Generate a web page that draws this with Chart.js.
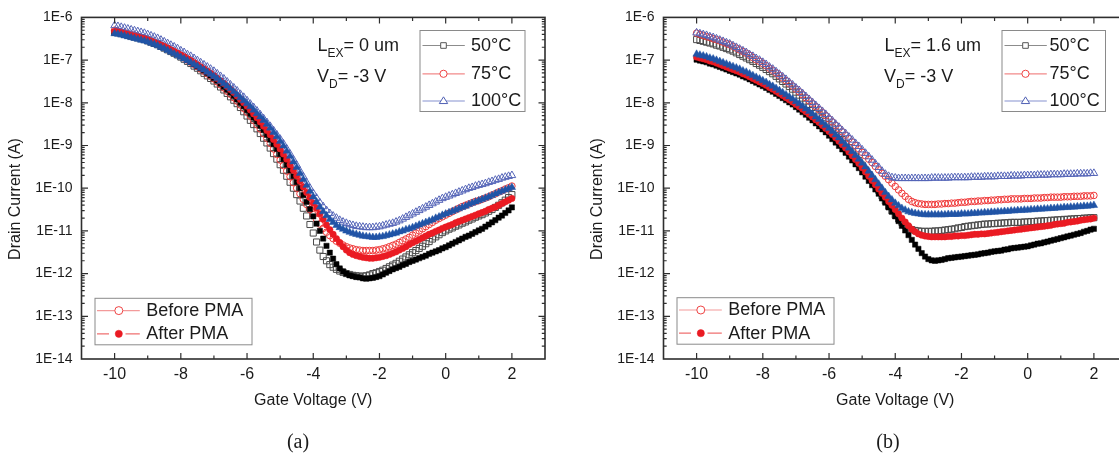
<!DOCTYPE html>
<html><head><meta charset="utf-8">
<script src="https://cdn.jsdelivr.net/npm/chart.js@4.4.0/dist/chart.umd.min.js"></script>
<style>
html,body{margin:0;padding:0;background:#fff;}
#wrap{position:relative;width:1119px;height:455px;overflow:hidden;background:#fff;}
canvas{position:absolute;top:0;}
#ca{left:0;} #cb{left:582px;}
</style></head><body>
<div id="wrap"><canvas id="ca" width="560" height="455"></canvas><canvas id="cb" width="560" height="455"></canvas></div>
<script>
// Gate voltage (V) of the sampled points
const gateVoltage = [
  -10,-9.9,-9.8,-9.7,-9.6,-9.5,-9.4,-9.3,-9.2,-9.1,
  -9,-8.9,-8.8,-8.7,-8.6,-8.5,-8.4,-8.3,-8.2,-8.1,
  -8,-7.9,-7.8,-7.7,-7.6,-7.5,-7.4,-7.3,-7.2,-7.1,
  -7,-6.9,-6.8,-6.7,-6.6,-6.5,-6.4,-6.3,-6.2,-6.1,
  -6,-5.9,-5.8,-5.7,-5.6,-5.5,-5.4,-5.3,-5.2,-5.1,
  -5,-4.9,-4.8,-4.7,-4.6,-4.5,-4.4,-4.3,-4.2,-4.1,
  -4,-3.9,-3.8,-3.7,-3.6,-3.5,-3.4,-3.3,-3.2,-3.1,
  -3,-2.9,-2.8,-2.7,-2.6,-2.5,-2.4,-2.3,-2.2,-2.1,
  -2,-1.9,-1.8,-1.7,-1.6,-1.5,-1.4,-1.3,-1.2,-1.1,
  -1,-0.9,-0.8,-0.7,-0.6,-0.5,-0.4,-0.3,-0.2,-0.1,
  0,0.1,0.2,0.3,0.4,0.5,0.6,0.7,0.8,0.9,
  1,1.1,1.2,1.3,1.4,1.5,1.6,1.7,1.8,1.9,2];

// Drain current, stored as log10(I / A)
// Panel (a): L_EX = 0 um
const a50Before = [
  -6.35,-6.36,-6.38,-6.40,-6.42,-6.44,-6.46,-6.48,-6.50,-6.52,
  -6.55,-6.58,-6.61,-6.64,-6.68,-6.72,-6.76,-6.80,-6.84,-6.88,
  -6.93,-6.98,-7.03,-7.08,-7.14,-7.19,-7.25,-7.31,-7.37,-7.43,
  -7.49,-7.56,-7.63,-7.70,-7.78,-7.86,-7.94,-8.02,-8.11,-8.21,
  -8.31,-8.41,-8.51,-8.61,-8.72,-8.83,-8.94,-9.06,-9.19,-9.32,
  -9.45,-9.58,-9.72,-9.86,-10.00,-10.15,-10.30,-10.47,-10.65,-10.85,
  -11.05,-11.26,-11.45,-11.60,-11.70,-11.79,-11.85,-11.90,-11.94,-11.97,
  -12.00,-12.02,-12.04,-12.05,-12.06,-12.06,-12.05,-12.03,-12.00,-11.98,
  -11.95,-11.92,-11.88,-11.84,-11.80,-11.76,-11.71,-11.66,-11.61,-11.56,
  -11.51,-11.46,-11.41,-11.36,-11.30,-11.25,-11.19,-11.14,-11.09,-11.04,
  -11.00,-10.96,-10.93,-10.89,-10.86,-10.82,-10.79,-10.75,-10.72,-10.68,
  -10.65,-10.62,-10.58,-10.54,-10.50,-10.45,-10.40,-10.34,-10.28,-10.22,-10.15];
const a50After = [
  -6.35,-6.36,-6.38,-6.40,-6.42,-6.44,-6.46,-6.48,-6.50,-6.52,
  -6.55,-6.57,-6.60,-6.63,-6.67,-6.70,-6.74,-6.78,-6.82,-6.86,
  -6.90,-6.94,-6.99,-7.04,-7.09,-7.14,-7.19,-7.24,-7.30,-7.36,
  -7.42,-7.48,-7.55,-7.62,-7.69,-7.76,-7.84,-7.92,-8.00,-8.08,
  -8.17,-8.26,-8.35,-8.44,-8.54,-8.64,-8.75,-8.86,-8.97,-9.08,
  -9.20,-9.32,-9.45,-9.58,-9.72,-9.86,-10.00,-10.16,-10.32,-10.49,
  -10.66,-10.83,-11.00,-11.18,-11.35,-11.51,-11.65,-11.78,-11.88,-11.95,
  -12.00,-12.04,-12.06,-12.08,-12.09,-12.11,-12.12,-12.11,-12.10,-12.08,
  -12.06,-12.02,-11.98,-11.94,-11.90,-11.87,-11.84,-11.80,-11.77,-11.73,
  -11.70,-11.67,-11.64,-11.61,-11.58,-11.54,-11.51,-11.48,-11.45,-11.41,
  -11.38,-11.34,-11.30,-11.26,-11.22,-11.18,-11.14,-11.11,-11.07,-11.03,
  -10.99,-10.95,-10.90,-10.85,-10.80,-10.75,-10.69,-10.64,-10.58,-10.52,-10.45];
const a75Before = [
  -6.30,-6.32,-6.34,-6.36,-6.38,-6.40,-6.42,-6.44,-6.47,-6.49,
  -6.52,-6.55,-6.58,-6.61,-6.65,-6.69,-6.73,-6.77,-6.81,-6.85,
  -6.90,-6.95,-7.00,-7.05,-7.10,-7.15,-7.21,-7.26,-7.32,-7.38,
  -7.44,-7.51,-7.58,-7.65,-7.73,-7.80,-7.88,-7.96,-8.05,-8.13,
  -8.22,-8.31,-8.41,-8.51,-8.61,-8.72,-8.83,-8.95,-9.08,-9.21,
  -9.34,-9.47,-9.60,-9.73,-9.87,-10.00,-10.13,-10.26,-10.38,-10.50,
  -10.62,-10.73,-10.84,-10.94,-11.03,-11.11,-11.18,-11.24,-11.29,-11.33,
  -11.37,-11.40,-11.42,-11.44,-11.45,-11.46,-11.46,-11.46,-11.46,-11.45,
  -11.44,-11.42,-11.40,-11.37,-11.34,-11.31,-11.27,-11.23,-11.19,-11.15,
  -11.10,-11.05,-11.00,-10.95,-10.90,-10.85,-10.80,-10.75,-10.71,-10.67,
  -10.63,-10.59,-10.55,-10.51,-10.47,-10.43,-10.40,-10.37,-10.34,-10.31,
  -10.29,-10.26,-10.23,-10.20,-10.16,-10.13,-10.09,-10.06,-10.02,-9.99,-9.95];
const a75After = [
  -6.33,-6.34,-6.36,-6.38,-6.40,-6.42,-6.44,-6.46,-6.48,-6.50,
  -6.53,-6.56,-6.59,-6.62,-6.65,-6.68,-6.72,-6.76,-6.80,-6.84,
  -6.88,-6.92,-6.97,-7.01,-7.06,-7.11,-7.16,-7.21,-7.26,-7.31,
  -7.37,-7.43,-7.49,-7.55,-7.62,-7.69,-7.76,-7.84,-7.92,-8.00,
  -8.08,-8.17,-8.26,-8.35,-8.45,-8.55,-8.65,-8.75,-8.86,-8.97,
  -9.08,-9.20,-9.32,-9.45,-9.58,-9.71,-9.84,-9.97,-10.10,-10.22,
  -10.35,-10.47,-10.60,-10.73,-10.86,-10.97,-11.08,-11.18,-11.27,-11.37,
  -11.45,-11.51,-11.55,-11.58,-11.60,-11.62,-11.63,-11.64,-11.64,-11.63,
  -11.62,-11.60,-11.58,-11.55,-11.52,-11.49,-11.45,-11.41,-11.37,-11.32,
  -11.28,-11.24,-11.20,-11.16,-11.12,-11.08,-11.05,-11.01,-10.98,-10.94,
  -10.91,-10.88,-10.85,-10.81,-10.78,-10.75,-10.72,-10.69,-10.66,-10.63,
  -10.60,-10.57,-10.54,-10.50,-10.47,-10.44,-10.40,-10.36,-10.32,-10.28,-10.24];
const a100Before = [
  -6.19,-6.21,-6.23,-6.25,-6.27,-6.29,-6.31,-6.33,-6.35,-6.37,
  -6.40,-6.43,-6.46,-6.49,-6.53,-6.57,-6.61,-6.65,-6.69,-6.73,
  -6.78,-6.82,-6.87,-6.91,-6.96,-7.01,-7.06,-7.11,-7.16,-7.21,
  -7.26,-7.32,-7.38,-7.44,-7.51,-7.58,-7.65,-7.72,-7.80,-7.87,
  -7.95,-8.03,-8.11,-8.19,-8.28,-8.37,-8.46,-8.55,-8.65,-8.75,
  -8.85,-8.96,-9.08,-9.20,-9.33,-9.46,-9.60,-9.73,-9.87,-10.00,
  -10.12,-10.23,-10.34,-10.43,-10.52,-10.59,-10.65,-10.70,-10.75,-10.79,
  -10.82,-10.85,-10.87,-10.89,-10.90,-10.91,-10.92,-10.92,-10.92,-10.91,
  -10.90,-10.88,-10.86,-10.84,-10.82,-10.79,-10.76,-10.72,-10.68,-10.64,
  -10.60,-10.56,-10.52,-10.48,-10.44,-10.40,-10.36,-10.32,-10.28,-10.24,
  -10.21,-10.18,-10.15,-10.12,-10.09,-10.06,-10.03,-10.00,-9.98,-9.95,
  -9.93,-9.91,-9.89,-9.86,-9.84,-9.81,-9.79,-9.76,-9.74,-9.72,-9.70];
const a100After = [
  -6.38,-6.39,-6.41,-6.43,-6.45,-6.47,-6.49,-6.51,-6.53,-6.55,
  -6.57,-6.60,-6.63,-6.66,-6.70,-6.73,-6.77,-6.81,-6.85,-6.89,
  -6.93,-6.97,-7.01,-7.05,-7.10,-7.14,-7.19,-7.23,-7.28,-7.33,
  -7.38,-7.43,-7.49,-7.55,-7.61,-7.67,-7.74,-7.81,-7.88,-7.95,
  -8.02,-8.09,-8.17,-8.25,-8.33,-8.41,-8.50,-8.59,-8.69,-8.79,
  -8.90,-9.01,-9.13,-9.25,-9.38,-9.51,-9.65,-9.79,-9.93,-10.07,
  -10.20,-10.32,-10.44,-10.55,-10.64,-10.73,-10.80,-10.87,-10.92,-10.96,
  -11.00,-11.03,-11.06,-11.08,-11.10,-11.12,-11.13,-11.14,-11.15,-11.15,
  -11.14,-11.13,-11.11,-11.09,-11.07,-11.05,-11.02,-11.00,-10.97,-10.95,
  -10.92,-10.89,-10.86,-10.83,-10.80,-10.77,-10.74,-10.70,-10.67,-10.63,
  -10.60,-10.57,-10.54,-10.51,-10.48,-10.45,-10.42,-10.38,-10.35,-10.32,
  -10.29,-10.26,-10.23,-10.20,-10.17,-10.13,-10.10,-10.07,-10.04,-10.01,-9.98];

// Panel (b): L_EX = 1.6 um
const b50Before = [
  -6.52,-6.54,-6.56,-6.58,-6.60,-6.62,-6.65,-6.67,-6.70,-6.73,
  -6.76,-6.79,-6.83,-6.87,-6.91,-6.95,-6.99,-7.03,-7.08,-7.12,
  -7.17,-7.22,-7.27,-7.32,-7.38,-7.44,-7.50,-7.56,-7.62,-7.68,
  -7.75,-7.82,-7.89,-7.96,-8.04,-8.11,-8.19,-8.27,-8.35,-8.43,
  -8.51,-8.59,-8.68,-8.77,-8.86,-8.95,-9.05,-9.15,-9.25,-9.35,
  -9.46,-9.57,-9.68,-9.80,-9.92,-10.05,-10.18,-10.30,-10.42,-10.53,
  -10.63,-10.72,-10.80,-10.87,-10.93,-10.97,-10.99,-11.00,-11.01,-11.01,
  -11.01,-11.01,-11.00,-11.00,-10.99,-10.98,-10.97,-10.96,-10.95,-10.93,
  -10.92,-10.90,-10.89,-10.88,-10.87,-10.86,-10.85,-10.84,-10.84,-10.83,
  -10.83,-10.82,-10.82,-10.81,-10.81,-10.80,-10.80,-10.80,-10.80,-10.79,
  -10.79,-10.78,-10.78,-10.77,-10.77,-10.76,-10.76,-10.75,-10.75,-10.74,
  -10.74,-10.73,-10.73,-10.72,-10.72,-10.71,-10.71,-10.70,-10.70,-10.69,-10.69];
const b50After = [
  -6.99,-7.01,-7.03,-7.05,-7.08,-7.10,-7.13,-7.16,-7.19,-7.22,
  -7.25,-7.28,-7.31,-7.34,-7.38,-7.41,-7.45,-7.49,-7.53,-7.57,
  -7.61,-7.65,-7.70,-7.74,-7.79,-7.84,-7.89,-7.94,-7.99,-8.04,
  -8.10,-8.16,-8.22,-8.28,-8.35,-8.41,-8.48,-8.55,-8.62,-8.69,
  -8.77,-8.85,-8.93,-9.01,-9.09,-9.17,-9.26,-9.35,-9.44,-9.53,
  -9.63,-9.73,-9.83,-9.93,-10.03,-10.13,-10.24,-10.34,-10.45,-10.55,
  -10.66,-10.77,-10.88,-10.99,-11.10,-11.21,-11.32,-11.42,-11.52,-11.60,
  -11.66,-11.69,-11.70,-11.69,-11.68,-11.66,-11.64,-11.63,-11.62,-11.61,
  -11.60,-11.59,-11.58,-11.57,-11.56,-11.55,-11.53,-11.52,-11.51,-11.49,
  -11.48,-11.47,-11.46,-11.44,-11.43,-11.41,-11.40,-11.39,-11.38,-11.37,
  -11.36,-11.34,-11.32,-11.30,-11.29,-11.27,-11.25,-11.23,-11.21,-11.19,
  -11.17,-11.15,-11.13,-11.11,-11.09,-11.07,-11.05,-11.02,-11.00,-10.97,-10.95];
const b75Before = [
  -6.37,-6.40,-6.42,-6.45,-6.47,-6.50,-6.52,-6.55,-6.58,-6.61,
  -6.64,-6.68,-6.72,-6.76,-6.80,-6.84,-6.89,-6.94,-6.99,-7.03,
  -7.08,-7.13,-7.19,-7.24,-7.30,-7.36,-7.42,-7.48,-7.55,-7.61,
  -7.68,-7.74,-7.81,-7.88,-7.95,-8.02,-8.09,-8.16,-8.23,-8.30,
  -8.38,-8.45,-8.53,-8.60,-8.68,-8.76,-8.84,-8.92,-9.00,-9.08,
  -9.16,-9.24,-9.32,-9.40,-9.49,-9.57,-9.65,-9.72,-9.80,-9.88,
  -9.96,-10.04,-10.12,-10.19,-10.26,-10.31,-10.34,-10.36,-10.37,-10.38,
  -10.38,-10.38,-10.38,-10.37,-10.37,-10.36,-10.36,-10.35,-10.35,-10.34,
  -10.33,-10.33,-10.32,-10.31,-10.31,-10.30,-10.30,-10.29,-10.29,-10.28,
  -10.28,-10.27,-10.27,-10.26,-10.26,-10.25,-10.25,-10.25,-10.25,-10.24,
  -10.24,-10.24,-10.23,-10.23,-10.23,-10.22,-10.22,-10.21,-10.21,-10.21,
  -10.21,-10.20,-10.20,-10.20,-10.19,-10.19,-10.19,-10.18,-10.18,-10.18,-10.17];
const b75After = [
  -6.93,-6.95,-6.97,-6.99,-7.02,-7.04,-7.07,-7.10,-7.13,-7.16,
  -7.19,-7.22,-7.25,-7.28,-7.32,-7.35,-7.39,-7.43,-7.47,-7.51,
  -7.55,-7.59,-7.64,-7.68,-7.73,-7.78,-7.83,-7.88,-7.93,-7.98,
  -8.04,-8.09,-8.15,-8.21,-8.27,-8.33,-8.40,-8.46,-8.53,-8.60,
  -8.67,-8.74,-8.82,-8.90,-8.98,-9.06,-9.15,-9.24,-9.33,-9.42,
  -9.52,-9.62,-9.72,-9.82,-9.92,-10.02,-10.12,-10.21,-10.31,-10.40,
  -10.50,-10.60,-10.70,-10.79,-10.88,-10.96,-11.02,-11.07,-11.10,-11.12,
  -11.13,-11.14,-11.14,-11.14,-11.14,-11.14,-11.13,-11.13,-11.12,-11.12,
  -11.11,-11.11,-11.10,-11.09,-11.08,-11.08,-11.07,-11.07,-11.06,-11.05,
  -11.04,-11.03,-11.02,-11.01,-11.00,-10.99,-10.98,-10.97,-10.96,-10.95,
  -10.94,-10.93,-10.92,-10.91,-10.90,-10.89,-10.88,-10.87,-10.85,-10.84,
  -10.83,-10.82,-10.80,-10.79,-10.78,-10.77,-10.75,-10.74,-10.73,-10.72,-10.70];
const b100Before = [
  -6.36,-6.38,-6.40,-6.42,-6.45,-6.47,-6.50,-6.53,-6.56,-6.59,
  -6.62,-6.66,-6.70,-6.74,-6.78,-6.82,-6.87,-6.91,-6.96,-7.00,
  -7.05,-7.10,-7.16,-7.21,-7.27,-7.33,-7.39,-7.45,-7.52,-7.58,
  -7.65,-7.71,-7.78,-7.85,-7.92,-7.99,-8.06,-8.13,-8.20,-8.27,
  -8.35,-8.42,-8.50,-8.57,-8.65,-8.72,-8.80,-8.87,-8.95,-9.02,
  -9.10,-9.18,-9.26,-9.34,-9.43,-9.51,-9.60,-9.67,-9.72,-9.75,
  -9.76,-9.77,-9.77,-9.77,-9.77,-9.77,-9.77,-9.77,-9.77,-9.77,
  -9.77,-9.76,-9.76,-9.76,-9.76,-9.76,-9.76,-9.75,-9.75,-9.75,
  -9.75,-9.75,-9.75,-9.74,-9.74,-9.74,-9.74,-9.73,-9.73,-9.73,
  -9.73,-9.72,-9.72,-9.72,-9.72,-9.71,-9.71,-9.71,-9.71,-9.70,
  -9.70,-9.70,-9.70,-9.69,-9.69,-9.69,-9.69,-9.68,-9.68,-9.68,
  -9.68,-9.67,-9.67,-9.67,-9.67,-9.66,-9.66,-9.66,-9.66,-9.65,-9.65];
const b100After = [
  -6.86,-6.88,-6.90,-6.92,-6.95,-6.97,-7.00,-7.03,-7.06,-7.09,
  -7.12,-7.15,-7.18,-7.21,-7.25,-7.28,-7.32,-7.36,-7.40,-7.44,
  -7.48,-7.52,-7.57,-7.61,-7.66,-7.71,-7.76,-7.81,-7.86,-7.91,
  -7.97,-8.02,-8.08,-8.14,-8.20,-8.26,-8.33,-8.39,-8.46,-8.53,
  -8.60,-8.67,-8.75,-8.82,-8.90,-8.98,-9.06,-9.14,-9.23,-9.32,
  -9.41,-9.50,-9.60,-9.70,-9.80,-9.90,-10.00,-10.10,-10.19,-10.27,
  -10.35,-10.41,-10.47,-10.51,-10.55,-10.57,-10.59,-10.60,-10.61,-10.62,
  -10.62,-10.62,-10.62,-10.62,-10.62,-10.62,-10.61,-10.61,-10.61,-10.61,
  -10.60,-10.60,-10.60,-10.59,-10.59,-10.58,-10.58,-10.57,-10.57,-10.56,
  -10.56,-10.55,-10.55,-10.54,-10.54,-10.53,-10.53,-10.52,-10.52,-10.51,
  -10.51,-10.50,-10.50,-10.49,-10.49,-10.48,-10.48,-10.47,-10.47,-10.46,
  -10.46,-10.45,-10.45,-10.44,-10.44,-10.43,-10.43,-10.42,-10.42,-10.41,-10.40];

// Axis ticks and labels
const xTickValues = [-10,-9,-8,-7,-6,-5,-4,-3,-2,-1,0,1,2];
const xTickLabels = ['-10','','-8','','-6','','-4','','-2','','0','','2'];
const yTickValues = [1e-14,1e-13,1e-12,1e-11,1e-10,1e-9,1e-8,1e-7,1e-6];
const yTickLabels = ['1E-14','1E-13','1E-12','1E-11','1E-10','1E-9','1E-8','1E-7','1E-6'];
const minorMultipliers = [1,2,3,4,5,6,7,8,9];
const xAxisTitle = 'Gate Voltage (V)';
const yAxisTitle = 'Drain Current (A)';
const tempLabels = ['50°C','75°C','100°C'];
const pmaLabels = ['Before PMA','After PMA'];

const FONT = "'Liberation Sans', Arial, Helvetica, sans-serif";
const TEXT = '#1b1b1b';
const AXIS = '#2e2e2e';
Chart.defaults.font.family = FONT;
Chart.defaults.color = TEXT;

const styles = {
  before50:  {pointStyle:'rect', r:4.3, border:'#4a4a4a', fill:'rgba(255,255,255,0)', bw:1, order:5},
  before75:  {pointStyle:'circle', r:3.3, border:'#ef3a3a', fill:'rgba(255,255,255,0)', bw:1, order:4},
  before100: {pointStyle:'triangle', r:4.4, border:'#5565b8', fill:'rgba(255,255,255,0)', bw:1, order:3},
  after50:   {pointStyle:'rect', r:3.7, border:'#000000', fill:'#000000', bw:0.5, order:2},
  after75:   {pointStyle:'circle', r:3.2, border:'#ea1b23', fill:'#ea1b23', bw:0.5, order:1},
  after100:  {pointStyle:'triangle', r:4.3, border:'#2154a6', fill:'#2154a6', bw:0.5, order:0}
};

function toPoints(logs) {
  return gateVoltage.map((v, i) => ({x: v, y: Math.pow(10, logs[i])}));
}
function dataset(label, logs, st) {
  return {
    label, data: toPoints(logs), showLine: false, order: st.order,
    pointStyle: st.pointStyle, pointRadius: st.r, pointBorderWidth: st.bw,
    pointBorderColor: st.border, pointBackgroundColor: st.fill,
    borderColor: st.border, backgroundColor: st.fill
  };
}

function drawMarker(ctx, style, x, y, r, stroke, fill, lw) {
  ctx.save();
  ctx.beginPath();
  if (style === 'rect') {
    ctx.rect(x - r, y - r, 2 * r, 2 * r);
  } else if (style === 'circle') {
    ctx.arc(x, y, r, 0, Math.PI * 2);
  } else {
    const h = r * 1.6;
    ctx.moveTo(x, y - h * 0.62);
    ctx.lineTo(x + r, y + h * 0.38);
    ctx.lineTo(x - r, y + h * 0.38);
    ctx.closePath();
  }
  ctx.fillStyle = fill; ctx.fill();
  ctx.lineWidth = lw; ctx.strokeStyle = stroke; ctx.stroke();
  ctx.restore();
}

function drawSubText(ctx, x, y, main, sub, rest) {
  ctx.textAlign = 'left'; ctx.textBaseline = 'alphabetic';
  ctx.font = '18px ' + FONT;
  ctx.fillText(main, x, y);
  let w = ctx.measureText(main).width;
  ctx.font = '12px ' + FONT;
  ctx.fillText(sub, x + w, y + 6);
  w += ctx.measureText(sub).width;
  ctx.font = '18px ' + FONT;
  ctx.fillText(rest, x + w, y);
}

function makeDecor(p) {
  return {
    id: 'decor',
    afterDraw(chart) {
      const ctx = chart.ctx, ca = chart.chartArea;
      const xs = chart.scales.x, ys = chart.scales.y;
      ctx.save();
      // inward ticks on all four sides
      ctx.strokeStyle = AXIS; ctx.lineWidth = 1.2;
      ctx.beginPath();
      yTickValues.forEach(base => {
        minorMultipliers.forEach(k => {
          const py = ys.getPixelForValue(base * k);
          if (py < ca.top + 1 || py > ca.bottom - 1) return;
          const len = k === 1 ? 6.5 : 3.2;
          ctx.moveTo(ca.left, py); ctx.lineTo(ca.left + len, py);
          ctx.moveTo(ca.right, py); ctx.lineTo(ca.right - len, py);
        });
      });
      xTickValues.forEach((v, i) => {
        const px = xs.getPixelForValue(v);
        const len = xTickLabels[i] ? 6 : 3.5;
        ctx.moveTo(px, ca.bottom); ctx.lineTo(px, ca.bottom - len);
        ctx.moveTo(px, ca.top); ctx.lineTo(px, ca.top + len);
      });
      ctx.stroke();
      // frame
      ctx.lineWidth = 1.6; ctx.strokeStyle = AXIS;
      ctx.strokeRect(ca.left, ca.top, ca.right - ca.left, ca.bottom - ca.top);

      ctx.fillStyle = TEXT;
      // axis titles
      ctx.font = '16px ' + FONT; ctx.textAlign = 'center'; ctx.textBaseline = 'middle';
      ctx.fillText(xAxisTitle, (ca.left + ca.right) / 2, 401);
      ctx.save();
      ctx.translate(ca.left - 65.7, 199);
      ctx.rotate(-Math.PI / 2);
      ctx.fillText(yAxisTitle, 0, 0);
      ctx.restore();

      // condition annotation
      ctx.fillStyle = TEXT;
      drawSubText(ctx, ca.left + p.lexX, 51, 'L', 'EX', p.lexText);
      drawSubText(ctx, ca.left + p.lexX - 0.5, 81.5, 'V', 'D', '= -3 V');

      // temperature legend
      const tx = ca.left + 338;
      ctx.fillStyle = '#fff'; ctx.fillRect(tx, 30.5, p.tempW, 81);
      ctx.strokeStyle = '#8a8a8a'; ctx.lineWidth = 1;
      ctx.strokeRect(tx + 0.5, 30.5, p.tempW, 81);
      const rows = [
        {y: 45.5, style: 'rect', r: 2.8, line: '#8c8c8c', mk: '#555555'},
        {y: 73.8, style: 'circle', r: 3.6, line: '#f28a8a', mk: '#ef4444'},
        {y: 101, style: 'triangle', r: 4.2, line: '#8591cf', mk: '#4f60b4'}
      ];
      rows.forEach((row, i) => {
        ctx.strokeStyle = row.line; ctx.lineWidth = 1.2;
        ctx.beginPath(); ctx.moveTo(ca.left + 341, row.y); ctx.lineTo(ca.left + 383.3, row.y); ctx.stroke();
        drawMarker(ctx, row.style, ca.left + 362, row.y, row.r, row.mk, '#ffffff', 1);
        ctx.fillStyle = TEXT; ctx.font = '18px ' + FONT;
        ctx.textAlign = 'left'; ctx.textBaseline = 'middle';
        ctx.fillText(tempLabels[i], ca.left + p.tempTextX, row.y + 0.5);
      });

      // PMA legend
      const px0 = ca.left + 13;
      ctx.fillStyle = '#fff'; ctx.fillRect(px0, p.pmaTop, 157, 46.5);
      ctx.strokeStyle = '#8a8a8a'; ctx.lineWidth = 1;
      ctx.strokeRect(px0 + 0.5, p.pmaTop, 157, 46.5);
      const r1 = p.pmaTop + 12.3, r2 = p.pmaTop + 35.5;
      ctx.strokeStyle = '#f39a9a'; ctx.lineWidth = 1.2;
      ctx.beginPath(); ctx.moveTo(ca.left + 15.5, r1); ctx.lineTo(ca.left + 58.3, r1); ctx.stroke();
      drawMarker(ctx, 'circle', ca.left + 37.3, r1, 4, '#ef4444', '#ffffff', 1);
      ctx.strokeStyle = '#f07070';
      ctx.beginPath();
      ctx.moveTo(ca.left + 15.5, r2); ctx.lineTo(ca.left + 27.5, r2);
      ctx.moveTo(ca.left + 44, r2); ctx.lineTo(ca.left + 58.3, r2);
      ctx.stroke();
      drawMarker(ctx, 'circle', ca.left + 37.3, r2, 3.6, '#ea1b23', '#ea1b23', 0.5);
      ctx.fillStyle = TEXT; ctx.font = '18px ' + FONT;
      ctx.textAlign = 'left'; ctx.textBaseline = 'middle';
      ctx.fillText(pmaLabels[0], ca.left + 64.7, r1 + 0.5);
      ctx.fillText(pmaLabels[1], ca.left + 64.7, r2 + 0.5);

      // panel caption
      ctx.font = '20px "Liberation Serif", "Times New Roman", serif';
      ctx.textAlign = 'center'; ctx.textBaseline = 'middle';
      ctx.fillStyle = TEXT;
      ctx.fillText(p.caption, p.captionX, 443);
      ctx.restore();
    }
  };
}

function makeChart(canvasId, logs, p) {
  const datasets = [
    dataset('100°C After PMA', logs.after100, styles.after100),
    dataset('75°C After PMA', logs.after75, styles.after75),
    dataset('50°C After PMA', logs.after50, styles.after50),
    dataset('100°C Before PMA', logs.before100, styles.before100),
    dataset('75°C Before PMA', logs.before75, styles.before75),
    dataset('50°C Before PMA', logs.before50, styles.before50)
  ];
  return new Chart(document.getElementById(canvasId), {
    type: 'scatter',
    data: {datasets},
    options: {
      responsive: false, animation: false, events: [],
      layout: {padding: {left: 0, right: 15, top: 16, bottom: 0}},
      plugins: {legend: {display: false}, tooltip: {enabled: false}},
      scales: {
        x: {
          type: 'linear', min: -11, max: 3,
          afterFit(s) { s.height = 96; },
          afterBuildTicks(s) { s.ticks = xTickValues.map(v => ({value: v})); },
          ticks: {autoSkip: false, maxRotation: 0, minRotation: 0, padding: 6, color: TEXT,
            font: {size: 16}, callback: (v, i) => xTickLabels[i]},
          grid: {display: false, drawTicks: false}, border: {display: false}
        },
        y: {
          type: 'logarithmic', min: 1e-14, max: 1e-6,
          afterFit(s) { s.width = 81.5; },
          afterBuildTicks(s) { s.ticks = yTickValues.map(v => ({value: v})); },
          ticks: {autoSkip: false, padding: 9, color: TEXT, font: {size: 14},
            callback: (v, i) => yTickLabels[i]},
          grid: {display: false, drawTicks: false}, border: {display: false}
        }
      }
    },
    plugins: [makeDecor(p)]
  });
}

makeChart('ca',
  {before50: a50Before, after50: a50After, before75: a75Before, after75: a75After, before100: a100Before, after100: a100After},
  {lexX: 236, lexText: '= 0 um', tempW: 105, tempTextX: 389.5, pmaTop: 298.3, caption: '(a)', captionX: 298});
makeChart('cb',
  {before50: b50Before, after50: b50After, before75: b75Before, after75: b75After, before100: b100Before, after100: b100After},
  {lexX: 221, lexText: '= 1.6 um', tempW: 103.5, tempTextX: 386, pmaTop: 297.7, caption: '(b)', captionX: 306});
</script></body></html>
